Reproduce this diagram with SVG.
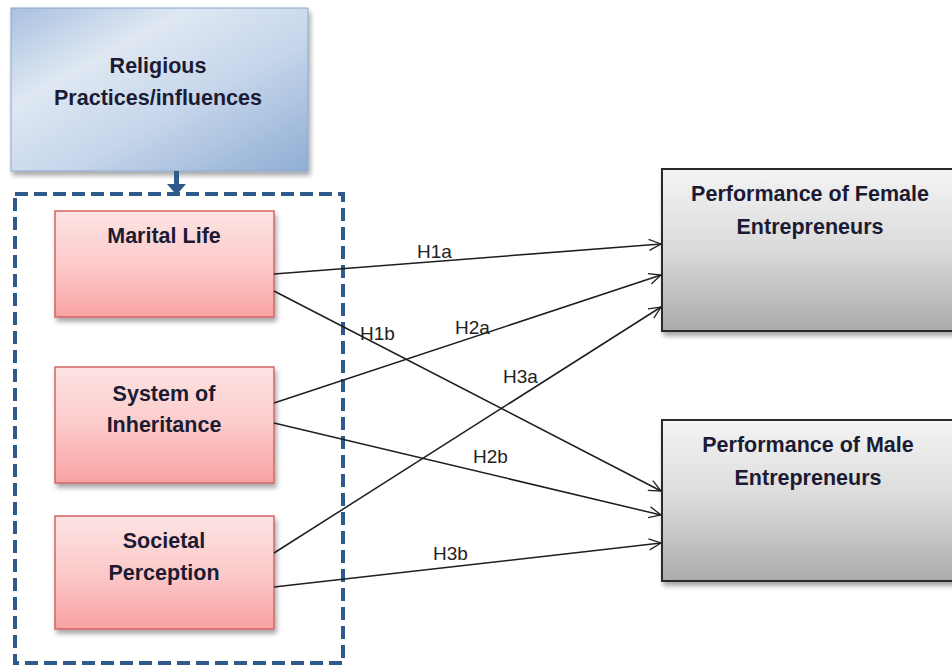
<svg xmlns="http://www.w3.org/2000/svg" width="952" height="667" viewBox="0 0 952 667">
<defs>
<linearGradient id="gBlue" x1="0" y1="0" x2="1" y2="1">
<stop offset="0" stop-color="#a9c0df"/>
<stop offset="0.3" stop-color="#dfe8f3"/>
<stop offset="0.6" stop-color="#c5d5ea"/>
<stop offset="1" stop-color="#8fadd4"/>
</linearGradient>
<linearGradient id="gPink" x1="0" y1="0" x2="0" y2="1">
<stop offset="0" stop-color="#fde3e3"/>
<stop offset="0.5" stop-color="#fccaca"/>
<stop offset="1" stop-color="#f8a2a2"/>
</linearGradient>
<linearGradient id="gGray" x1="0" y1="0" x2="0" y2="1">
<stop offset="0" stop-color="#f4f4f4"/>
<stop offset="0.5" stop-color="#dadada"/>
<stop offset="1" stop-color="#ababab"/>
</linearGradient>
<filter id="sh" x="-10%" y="-10%" width="125%" height="130%">
<feGaussianBlur in="SourceAlpha" stdDeviation="2.5"/>
<feOffset dx="2" dy="4" result="b"/>
<feComponentTransfer><feFuncA type="linear" slope="0.35"/></feComponentTransfer>
<feMerge><feMergeNode/><feMergeNode in="SourceGraphic"/></feMerge>
</filter>
<marker id="arr" viewBox="0 0 14 14" refX="13" refY="7" markerWidth="14" markerHeight="14" markerUnits="userSpaceOnUse" orient="auto">
<path d="M1,1.5 L13,7 L1,12.5" fill="none" stroke="#222" stroke-width="1.3"/>
</marker>
</defs>
<style>
.bt{font-family:"Liberation Sans",Arial,sans-serif;font-weight:bold;font-size:21.5px;fill:#1b1b33;text-anchor:middle}
.lb{font-family:"Liberation Sans",Arial,sans-serif;font-size:19px;fill:#222}
.pink{fill:url(#gPink);stroke:#d26565;stroke-width:1.5}
.gray{fill:url(#gGray);stroke:#2a2a2a;stroke-width:2}
.con{stroke:#1e1e1e;stroke-width:1.5;fill:none;marker-end:url(#arr)}
</style>
<rect width="952" height="667" fill="#ffffff"/>

<g id="religious">
<rect x="11" y="8" width="297" height="163" fill="url(#gBlue)" stroke="#8aa6cc" stroke-width="1" filter="url(#sh)"/>
<text class="bt" x="158" y="73">Religious</text>
<text class="bt" x="158" y="105">Practices/influences</text>
</g>

<g id="group-box">
<rect x="15" y="194" width="328" height="469" fill="none" stroke="#2f5b8c" stroke-width="4" stroke-dasharray="13 6"/>
<path d="M174,171 h5 v13 h7 l-9.5,11 l-9.5,-11 h7 z" fill="#2f5b8c"/>
</g>

<g id="marital">
<rect class="pink" x="55" y="211" width="219" height="106" filter="url(#sh)"/>
<text class="bt" x="164" y="243">Marital Life</text>
</g>

<g id="inheritance">
<rect class="pink" x="55" y="367" width="219" height="116" filter="url(#sh)"/>
<text class="bt" x="164" y="401">System of</text>
<text class="bt" x="164" y="432">Inheritance</text>
</g>

<g id="societal">
<rect class="pink" x="55" y="516" width="219" height="113" filter="url(#sh)"/>
<text class="bt" x="164" y="548">Societal</text>
<text class="bt" x="164" y="580">Perception</text>
</g>

<g id="female">
<rect class="gray" x="662" y="169" width="300" height="162" filter="url(#sh)"/>
<text class="bt" x="810" y="201">Performance of Female</text>
<text class="bt" x="810" y="234">Entrepreneurs</text>
</g>

<g id="male">
<rect class="gray" x="662" y="420" width="300" height="161" filter="url(#sh)"/>
<text class="bt" x="808" y="452">Performance of Male</text>
<text class="bt" x="808" y="485">Entrepreneurs</text>
</g>

<g id="connectors">
<line class="con" x1="274" y1="274" x2="661" y2="244"/>
<line class="con" x1="274" y1="291" x2="661" y2="491"/>
<line class="con" x1="274" y1="403" x2="661" y2="275"/>
<line class="con" x1="274" y1="423" x2="661" y2="515"/>
<line class="con" x1="274" y1="553" x2="661" y2="307"/>
<line class="con" x1="274" y1="587" x2="661" y2="543"/>
<text class="lb" x="417" y="258">H1a</text>
<text class="lb" x="360" y="340">H1b</text>
<text class="lb" x="455" y="334">H2a</text>
<text class="lb" x="503" y="383">H3a</text>
<text class="lb" x="473" y="463">H2b</text>
<text class="lb" x="433" y="560">H3b</text>
</g>
</svg>
